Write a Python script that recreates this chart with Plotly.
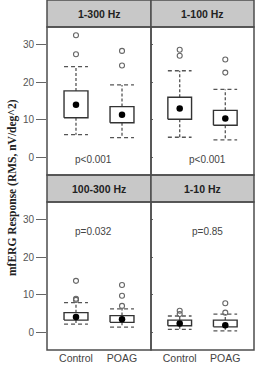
import plotly.graph_objects as go

# ---------------- data ----------------
categories = ["Control", "POAG"]
panels = ["1-300 Hz", "1-100 Hz", "100-300 Hz", "1-10 Hz"]
p_values = ["p<0.001", "p<0.001", "p=0.032", "p=0.85"]
p_y = [-0.6, -0.6, 27.0, 27.0]

# per panel: [Control, POAG]
lower_whisker = [[6.0, 5.2], [5.3, 4.6], [2.1, 1.3], [0.7, 0.3]]
q1 = [[10.5, 9.2], [10.1, 8.5], [3.2, 2.6], [1.7, 1.4]]
median = [[14.0, 11.3], [13.0, 10.3], [4.0, 3.4], [2.3, 1.8]]
q3 = [[17.7, 13.5], [16.0, 12.5], [5.2, 4.4], [3.2, 3.2]]
upper_whisker = [[24.2, 19.3], [23.1, 18.1], [7.9, 6.2], [4.3, 4.8]]
outliers = [
    [[32.6, 27.5], [28.4, 24.5]],
    [[28.7, 27.1], [26.1, 22.6]],
    [[13.7, 8.6, 8.9], [12.6, 9.7, 7.0]],
    [[5.7, 4.8], [7.7, 5.2]],
]

y_ticks = [0, 10, 20, 30]
y_range = [-4.8, 34.8]
x_range = [0.37, 2.63]

# ---------------- style ----------------
W, H = 257, 372
BORDER = "#4d4d4d"
STRIP = "#c8c8c8"
WHISK = "#555555"
half = 0.26

xl, xm, xr = 47 / W, 151 / W, 254 / W
top_dom = [(H - 175) / H, (H - 27) / H]
bot_dom = [(H - 350) / H, (H - 202) / H]

fig = go.Figure()

axes = [("x", "y", [xl, xm], top_dom),
        ("x2", "y2", [xm, xr], top_dom),
        ("x3", "y3", [xl, xm], bot_dom),
        ("x4", "y4", [xm, xr], bot_dom)]

for i, (xa, ya, xd, yd) in enumerate(axes):
    for j, cat in enumerate(categories):
        c = j + 1
        lo, a, m, b, hi = (lower_whisker[i][j], q1[i][j], median[i][j],
                           q3[i][j], upper_whisker[i][j])
        # whiskers
        fig.add_trace(go.Scatter(
            x=[c, c, None, c, c], y=[b, hi, None, a, lo], mode="lines",
            line=dict(color=WHISK, width=1.3, dash="3px,2px"),
            xaxis=xa, yaxis=ya, showlegend=False, hoverinfo="skip"))
        # caps
        fig.add_trace(go.Scatter(
            x=[c - half, c + half, None, c - half, c + half],
            y=[hi, hi, None, lo, lo], mode="lines",
            line=dict(color=WHISK, width=1.3, dash="4px,3px"),
            xaxis=xa, yaxis=ya, showlegend=False, hoverinfo="skip"))
        # box
        fig.add_trace(go.Scatter(
            x=[c - half, c + half, c + half, c - half, c - half],
            y=[a, a, b, b, a], mode="lines", fill="toself",
            fillcolor="white", line=dict(color="#333333", width=1.4),
            xaxis=xa, yaxis=ya, showlegend=False, hoverinfo="skip"))
        # median dot
        fig.add_trace(go.Scatter(
            x=[c], y=[m], mode="markers",
            marker=dict(color="black", size=6.5),
            xaxis=xa, yaxis=ya, showlegend=False))
        # outliers
        ol = outliers[i][j]
        fig.add_trace(go.Scatter(
            x=[c] * len(ol), y=ol, mode="markers",
            marker=dict(symbol="circle-open", color="#666666", size=5,
                        line=dict(width=1.1)),
            xaxis=xa, yaxis=ya, showlegend=False))
    # p value
    fig.add_annotation(x=1.5 + (-0.11 if i % 2 == 0 else 0.11), y=p_y[i],
                       xref=xa, yref=ya, text=p_values[i], showarrow=False,
                       xanchor="center", yanchor="middle",
                       font=dict(family="Liberation Sans, Arial", size=10,
                                 color="#444444"))
    # strip
    sy0, sy1 = yd[1], min(yd[1] + 27 / H, 1.0)
    fig.add_shape(type="rect", xref="paper", yref="paper",
                  x0=xd[0], x1=xd[1], y0=sy0, y1=sy1,
                  fillcolor=STRIP, line=dict(color=BORDER, width=1.5),
                  layer="below")
    fig.add_annotation(x=(xd[0] + xd[1]) / 2, y=(sy0 + sy1) / 2,
                       xref="paper", yref="paper", text="<b>%s</b>" % panels[i],
                       showarrow=False, xanchor="center", yanchor="middle",
                       font=dict(family="Liberation Sans, Arial", size=10.5,
                                 color="#222222"))
    # panel frame
    fig.add_shape(type="rect", xref="paper", yref="paper",
                  x0=xd[0], x1=xd[1], y0=yd[0], y1=yd[1],
                  line=dict(color=BORDER, width=1.5), layer="above")

    left = i % 2 == 0
    bottom = i >= 2
    fig.update_layout(**{
        ("xaxis" if xa == "x" else "xaxis" + xa[1:]): dict(
            domain=xd, range=x_range, tickvals=[1, 2],
            ticktext=categories if bottom else ["", ""],
            showticklabels=bottom, ticks="", showgrid=False, zeroline=False,
            showline=False, anchor=ya,
            tickfont=dict(family="Liberation Sans, Arial", size=10.5,
                          color="#444444")),
        ("yaxis" if ya == "y" else "yaxis" + ya[1:]): dict(
            domain=yd, range=y_range, tickvals=y_ticks,
            showticklabels=left, ticks="outside" if left else "inside",
            ticklen=10 if left else 2, tickcolor="#666666", tickwidth=1.2,
            showgrid=False, zeroline=False, showline=False, anchor=xa,
            tickfont=dict(family="Liberation Sans, Arial", size=10,
                          color="#555555")),
    })

fig.add_annotation(x=12 / W, y=(H - 188) / H, xref="paper", yref="paper",
                   text="<b>mfERG Response (RMS, nV/deg^2)</b>", textangle=-90,
                   showarrow=False, xanchor="center", yanchor="middle",
                   font=dict(family="Liberation Serif, Times New Roman",
                             size=11.5, color="#222222"))

fig.update_layout(width=W, height=H, margin=dict(l=0, r=0, t=0, b=0),
                  paper_bgcolor="white", plot_bgcolor="white",
                  showlegend=False)

fig.write_html("out.html")
